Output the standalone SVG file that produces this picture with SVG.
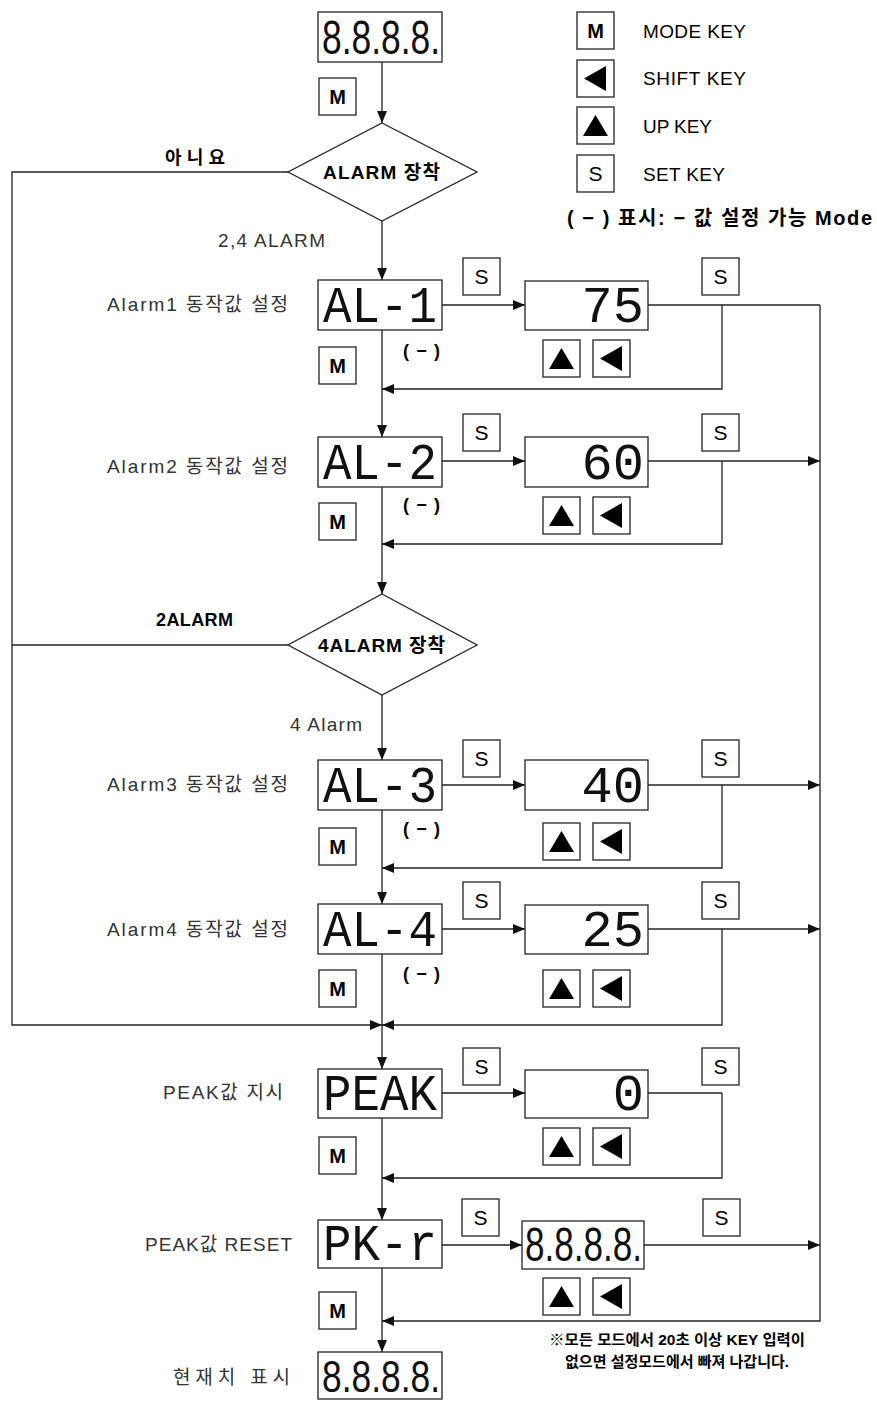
<svg xmlns="http://www.w3.org/2000/svg" width="877" height="1401" viewBox="0 0 877 1401">
<style>
.ln{stroke:#222;stroke-width:1.3;fill:none}
.bx{fill:#fff;stroke:#222;stroke-width:1.3}
.tri{fill:#000}
.seg{font-family:"Liberation Mono",monospace;font-size:52px;fill:#111}
.eight{font-family:"Liberation Sans",sans-serif;font-size:48px;fill:#111}
.t{font-family:"Liberation Sans","Noto Sans CJK KR",sans-serif;font-size:19px;fill:#333}
.b{font-family:"Liberation Sans","Noto Sans CJK KR",sans-serif;font-size:18px;font-weight:bold;fill:#000}
.k{font-family:"Liberation Sans",sans-serif;font-size:21px;fill:#000;text-anchor:middle}
.kb{font-family:"Liberation Sans",sans-serif;font-size:20px;font-weight:bold;fill:#000;text-anchor:middle}
.lg{font-family:"Liberation Sans","Noto Sans CJK KR",sans-serif;font-size:19px;fill:#000}
</style>
<defs>
<marker id="a" viewBox="0 0 12 10" refX="12" refY="5" markerWidth="12" markerHeight="10" markerUnits="userSpaceOnUse" orient="auto"><path d="M0,0 L12,5 L0,10 z" fill="#111"/></marker>
<g id="mkey"><rect class="bx" x="0" y="0" width="37" height="37"/><text class="kb" x="18.5" y="26">M</text></g>
<g id="skey"><rect class="bx" x="0" y="0" width="37" height="37"/><text class="k" x="18.5" y="26">S</text></g>
<g id="upkey"><rect class="bx" x="0" y="0" width="37" height="37"/><path class="tri" d="M18.5,8 L31,29 L6,29 z"/></g>
<g id="shkey"><rect class="bx" x="0" y="0" width="37" height="37"/><path class="tri" d="M7,18.5 L29,6 L29,31 z"/></g>
</defs>

<g id="connectors">
<line class="ln" x1="382" y1="62" x2="382" y2="123" marker-end="url(#a)"/>
<line class="ln" x1="382" y1="221" x2="382" y2="280" marker-end="url(#a)"/>
<line class="ln" x1="382" y1="330" x2="382" y2="437" marker-end="url(#a)"/>
<line class="ln" x1="382" y1="486" x2="382" y2="594" marker-end="url(#a)"/>
<line class="ln" x1="382" y1="695" x2="382" y2="760" marker-end="url(#a)"/>
<line class="ln" x1="382" y1="810" x2="382" y2="904" marker-end="url(#a)"/>
<line class="ln" x1="382" y1="953" x2="382" y2="1069" marker-end="url(#a)"/>
<line class="ln" x1="382" y1="1118" x2="382" y2="1220" marker-end="url(#a)"/>
<line class="ln" x1="382" y1="1268" x2="382" y2="1352" marker-end="url(#a)"/>
<polyline class="ln" points="288,172 12,172 12,1025 382,1025" marker-end="url(#a)"/>
<line class="ln" x1="288" y1="645" x2="12" y2="645"/>
<line class="ln" x1="442" y1="305" x2="525" y2="305" marker-end="url(#a)"/>
<line class="ln" x1="442" y1="461" x2="525" y2="461" marker-end="url(#a)"/>
<line class="ln" x1="442" y1="785" x2="525" y2="785" marker-end="url(#a)"/>
<line class="ln" x1="442" y1="929" x2="525" y2="929" marker-end="url(#a)"/>
<line class="ln" x1="442" y1="1093" x2="525" y2="1093" marker-end="url(#a)"/>
<line class="ln" x1="442" y1="1245" x2="522" y2="1245" marker-end="url(#a)"/>
<line class="ln" x1="648" y1="305" x2="820" y2="305"/>
<line class="ln" x1="648" y1="461" x2="820" y2="461" marker-end="url(#a)"/>
<line class="ln" x1="648" y1="785" x2="820" y2="785" marker-end="url(#a)"/>
<line class="ln" x1="648" y1="929" x2="820" y2="929" marker-end="url(#a)"/>
<line class="ln" x1="648" y1="1093" x2="722" y2="1093"/>
<line class="ln" x1="644" y1="1245" x2="820" y2="1245" marker-end="url(#a)"/>
<polyline class="ln" points="722,305 722,389 382,389" marker-end="url(#a)"/>
<polyline class="ln" points="722,461 722,544 382,544" marker-end="url(#a)"/>
<polyline class="ln" points="722,785 722,868 382,868" marker-end="url(#a)"/>
<polyline class="ln" points="722,929 722,1025 382,1025" marker-end="url(#a)"/>
<polyline class="ln" points="722,1093 722,1178 382,1178" marker-end="url(#a)"/>
<polyline class="ln" points="820,305 820,1321 382,1321" marker-end="url(#a)"/>
</g>

<g id="legend">
<use href="#mkey" x="577" y="12"/><text class="lg" x="643" y="38" textLength="103">MODE KEY</text>
<use href="#shkey" x="577" y="60"/><text class="lg" x="643" y="85" textLength="103">SHIFT KEY</text>
<use href="#upkey" x="577" y="107"/><text class="lg" x="643" y="133" textLength="69">UP KEY</text>
<use href="#skey" x="577" y="155"/><text class="lg" x="643" y="181" textLength="82">SET KEY</text>
<text class="b" x="567" y="225" style="font-size:20px" textLength="305">( − ) 표시: − 값 설정 가능 Mode</text>
</g>

<g id="start">
<rect class="bx" x="318" y="12" width="124" height="50"/>
<text class="eight" x="322" y="54" textLength="118" lengthAdjust="spacingAndGlyphs">8.8.8.8.</text>
<use href="#mkey" x="319" y="78"/>
</g>

<g id="dec1">
<polygon class="bx" points="382,123 477,172 382,221 288,172"/>
<text class="b" x="323" y="179" style="font-size:19px" textLength="117">ALARM 장착</text>
<text class="b" x="165" y="164" textLength="60">아니요</text>
<text class="t" x="218" y="247" textLength="107">2,4 ALARM</text>
</g>

<g id="al1">
<text class="t" x="107" y="311" textLength="181">Alarm1 동작값 설정</text>
<rect class="bx" x="318" y="280" width="124" height="50"/>
<text class="seg" x="323" y="322" textLength="114" lengthAdjust="spacingAndGlyphs">AL-1</text>
<use href="#mkey" x="319" y="347"/>
<text class="b" x="403" y="357" textLength="37">( − )</text>
<use href="#skey" x="463" y="258"/>
<rect class="bx" x="525" y="281" width="123" height="49"/>
<text class="seg" x="644" y="322" text-anchor="end">75</text>
<use href="#upkey" x="543" y="340"/>
<use href="#shkey" x="593" y="340"/>
<use href="#skey" x="702" y="258"/>
</g>

<g id="al2">
<text class="t" x="107" y="473" textLength="181">Alarm2 동작값 설정</text>
<rect class="bx" x="318" y="437" width="124" height="50"/>
<text class="seg" x="323" y="479" textLength="114" lengthAdjust="spacingAndGlyphs">AL-2</text>
<use href="#mkey" x="319" y="503"/>
<text class="b" x="403" y="511" textLength="37">( − )</text>
<use href="#skey" x="463" y="414"/>
<rect class="bx" x="525" y="437" width="123" height="50"/>
<text class="seg" x="644" y="479" text-anchor="end">60</text>
<use href="#upkey" x="543" y="497"/>
<use href="#shkey" x="593" y="497"/>
<use href="#skey" x="702" y="414"/>
</g>

<g id="dec2">
<polygon class="bx" points="382,594 477,645 382,695 288,645"/>
<text class="b" x="318" y="652" style="font-size:19px" textLength="127">4ALARM 장착</text>
<text class="b" x="156" y="626" textLength="77">2ALARM</text>
<text class="t" x="290" y="731" textLength="72">4 Alarm</text>
</g>

<g id="al3">
<text class="t" x="107" y="791" textLength="181">Alarm3 동작값 설정</text>
<rect class="bx" x="318" y="760" width="124" height="50"/>
<text class="seg" x="323" y="802" textLength="114" lengthAdjust="spacingAndGlyphs">AL-3</text>
<use href="#mkey" x="319" y="828"/>
<text class="b" x="403" y="835" textLength="37">( − )</text>
<use href="#skey" x="463" y="740"/>
<rect class="bx" x="525" y="760" width="123" height="50"/>
<text class="seg" x="644" y="802" text-anchor="end">40</text>
<use href="#upkey" x="543" y="823"/>
<use href="#shkey" x="593" y="823"/>
<use href="#skey" x="702" y="740"/>
</g>

<g id="al4">
<text class="t" x="107" y="936" textLength="181">Alarm4 동작값 설정</text>
<rect class="bx" x="318" y="904" width="124" height="50"/>
<text class="seg" x="323" y="946" textLength="114" lengthAdjust="spacingAndGlyphs">AL-4</text>
<use href="#mkey" x="319" y="970"/>
<text class="b" x="403" y="980" textLength="37">( − )</text>
<use href="#skey" x="463" y="882"/>
<rect class="bx" x="525" y="905" width="123" height="49"/>
<text class="seg" x="644" y="946" text-anchor="end">25</text>
<use href="#upkey" x="543" y="970"/>
<use href="#shkey" x="593" y="970"/>
<use href="#skey" x="702" y="882"/>
</g>

<g id="peak">
<text class="t" x="163" y="1099" textLength="120">PEAK값 지시</text>
<rect class="bx" x="318" y="1069" width="124" height="49"/>
<text class="seg" x="323" y="1110" textLength="114" lengthAdjust="spacingAndGlyphs">PEAK</text>
<use href="#mkey" x="319" y="1137"/>
<use href="#skey" x="463" y="1048"/>
<rect class="bx" x="525" y="1070" width="123" height="48"/>
<text class="seg" x="644" y="1110" text-anchor="end">0</text>
<use href="#upkey" x="543" y="1128"/>
<use href="#shkey" x="593" y="1128"/>
<use href="#skey" x="702" y="1048"/>
</g>

<g id="pkr">
<text class="t" x="145" y="1251" textLength="147">PEAK값 RESET</text>
<rect class="bx" x="318" y="1220" width="124" height="48"/>
<text class="seg" x="323" y="1260" textLength="114" lengthAdjust="spacingAndGlyphs">PK-r</text>
<use href="#mkey" x="319" y="1292"/>
<use href="#skey" x="462" y="1199"/>
<rect class="bx" x="522" y="1221" width="122" height="48"/>
<text class="eight" x="525" y="1261" textLength="117" lengthAdjust="spacingAndGlyphs">8.8.8.8.</text>
<use href="#upkey" x="543" y="1278"/>
<use href="#shkey" x="593" y="1278"/>
<use href="#skey" x="703" y="1199"/>
</g>

<g id="current">
<text class="t" x="173" y="1384" textLength="117">현재치 표시</text>
<rect class="bx" x="318" y="1352" width="124" height="47"/>
<text class="eight" x="322" y="1392" style="font-size:45px" textLength="118" lengthAdjust="spacingAndGlyphs">8.8.8.8.</text>
</g>

<g id="note">
<text class="b" x="677" y="1345" text-anchor="middle" style="font-size:15px" textLength="256" lengthAdjust="spacingAndGlyphs">※모든 모드에서 20초 이상 KEY 입력이</text>
<text class="b" x="677" y="1367" text-anchor="middle" style="font-size:15px" textLength="224" lengthAdjust="spacingAndGlyphs">없으면 설정모드에서 빠져 나갑니다.</text>
</g>
</svg>
